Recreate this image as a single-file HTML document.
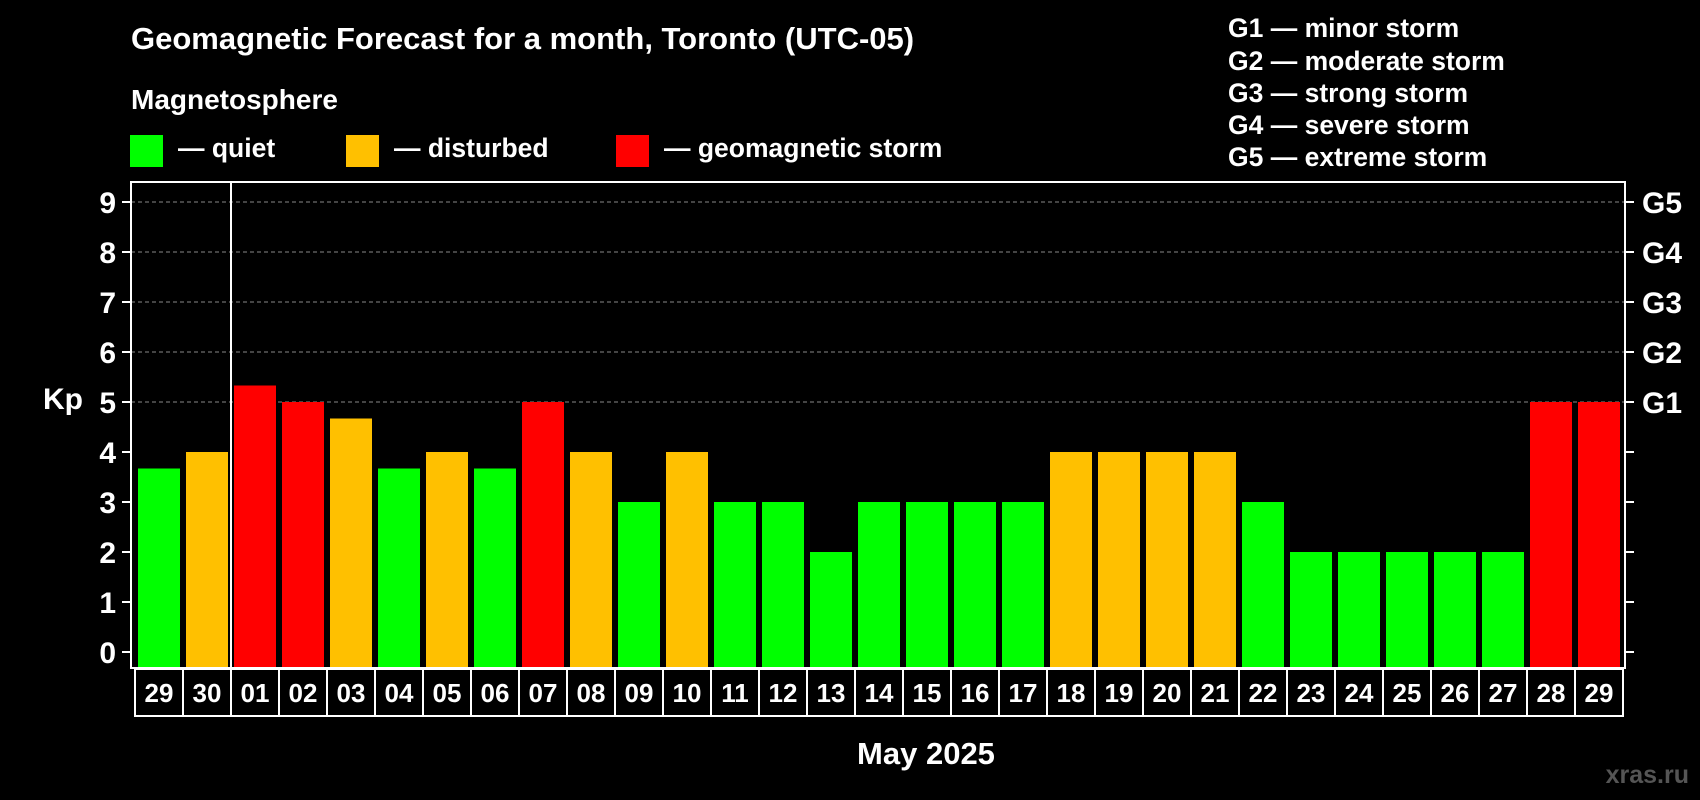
<!DOCTYPE html>
<html><head><meta charset="utf-8"><style>
html,body{margin:0;padding:0;background:#000;}
svg{display:block;font-family:"Liberation Sans",Arial,sans-serif;font-weight:bold;}
</style></head><body>
<svg id="chart" width="1700" height="800" viewBox="0 0 1700 800" xmlns="http://www.w3.org/2000/svg">
<rect x="0" y="0" width="1700" height="800" fill="#000"/>
<text x="131" y="49" fill="#fff" font-size="31">Geomagnetic Forecast for a month, Toronto (UTC-05)</text>
<text x="131" y="109" fill="#fff" font-size="28">Magnetosphere</text>
<g>
<rect x="130" y="135" width="33" height="32" fill="#00ff00"/>
<text x="178" y="157" fill="#fff" font-size="26.5">— quiet</text></g>
<g>
<rect x="346" y="135" width="33" height="32" fill="#ffc000"/>
<text x="394" y="157" fill="#fff" font-size="26.5">— disturbed</text></g>
<g>
<rect x="616" y="135" width="33" height="32" fill="#ff0000"/>
<text x="664" y="157" fill="#fff" font-size="26.5">— geomagnetic storm</text></g>
<g fill="#fff" font-size="26.5">
<text x="1228" y="37">G1 — minor storm</text>
<text x="1228" y="70">G2 — moderate storm</text>
<text x="1228" y="102">G3 — strong storm</text>
<text x="1228" y="134">G4 — severe storm</text>
<text x="1228" y="166">G5 — extreme storm</text>
</g>
<text x="63" y="409" fill="#fff" font-size="30" text-anchor="middle">Kp</text>
<text x="926" y="764" fill="#fff" font-size="31" text-anchor="middle">May 2025</text>
<text x="1689" y="783" fill="#555" font-size="25" text-anchor="end">xras.ru</text>
<g id="grid"></g><g id="bars"></g><g id="axes"></g>
</svg>
<script>
const days = ["29","30","01","02","03","04","05","06","07","08","09","10","11","12","13","14","15","16","17","18","19","20","21","22","23","24","25","26","27","28","29"];
const kpValues = [3.67,4,5.33,5,4.67,3.67,4,3.67,5,4,3,4,3,3,2,3,3,3,3,4,4,4,4,3,2,2,2,2,2,5,5];
const yTicks = [0,1,2,3,4,5,6,7,8,9];
const gLabels = ["G1","G2","G3","G4","G5"];
const gLevels = [5,6,7,8,9];

const NS = "http://www.w3.org/2000/svg";
const L = 131, R = 1625, T = 182, B = 668;
const y0 = 652, unit = 50.0;
const yScale = v => y0 - v * unit;
const step = 48, first = 135;
const xBand = i => first + i * step;
function mk(tag, attrs, parent) {
  const e = document.createElementNS(NS, tag);
  for (const k in attrs) e.setAttribute(k, attrs[k]);
  parent.appendChild(e); return e;
}
const grid = document.getElementById("grid"), bars = document.getElementById("bars"), axes = document.getElementById("axes");
function colorFor(v){ return v >= 5 ? "#ff0000" : (v >= 4 ? "#ffc000" : "#00ff00"); }

yTicks.forEach(t => {
  const y = yScale(t);
  if (t >= 5) {
    const g = mk("line", {x1: L, x2: R, y1: y, y2: y, stroke: "#888", "stroke-width": 1, "stroke-dasharray": "4,3"}, grid);
    
    
  }
  const tk = mk("line", {x1: 122, x2: L, y1: y, y2: y, stroke: "#fff", "stroke-width": 2}, axes);
  
  
  const rt = mk("line", {x1: R, x2: 1634, y1: y, y2: y, stroke: "#fff", "stroke-width": 2}, axes);
  
  
  const lb = mk("text", {x: 116, y: y + 11, fill: "#fff", "font-size": 30, "text-anchor": "end"}, axes);
  lb.textContent = String(t);
  
  
});
gLabels.forEach((g, i) => {
  const t = mk("text", {x: 1642, y: yScale(gLevels[i]) + 11, fill: "#fff", "font-size": 30}, axes);
  t.textContent = g;
  
  
});
kpValues.forEach((v, i) => {
  const b = mk("rect", {x: xBand(i) + 3, y: yScale(v), width: 42, height: B - yScale(v), fill: colorFor(v)}, bars);
  
  
});
const frame = mk("rect", {x: L, y: T, width: R - L, height: B - T, fill: "none", stroke: "#fff", "stroke-width": 2}, axes);


const sep = mk("line", {x1: xBand(2), x2: xBand(2), y1: T, y2: B, stroke: "#fff", "stroke-width": 2}, axes);


days.forEach((d, i) => {
  const c = mk("rect", {x: xBand(i), y: 669, width: step, height: 47, fill: "#000", stroke: "#fff", "stroke-width": 2}, axes);
  
  
  const t = mk("text", {x: xBand(i) + step / 2, y: 702, fill: "#fff", "font-size": 26, "text-anchor": "middle"}, axes);
  t.textContent = d;
  
  
});
</script>
</body></html>
